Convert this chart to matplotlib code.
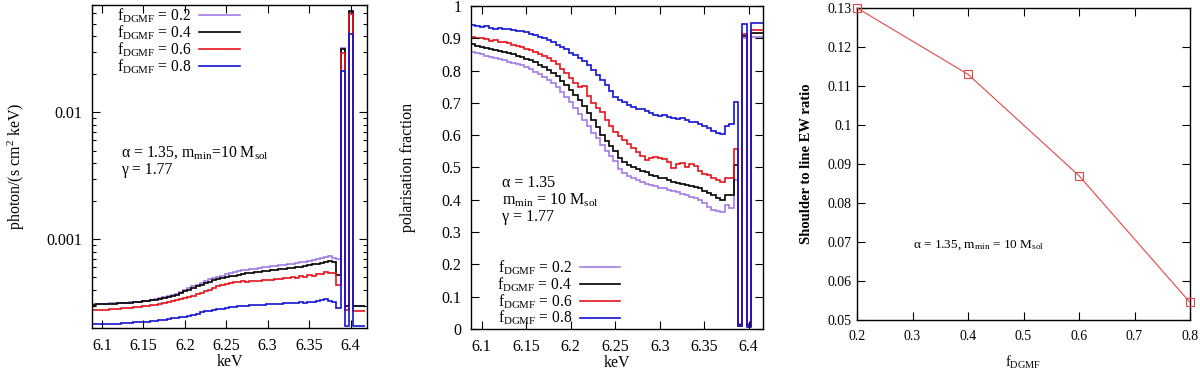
import matplotlib
matplotlib.use("Agg")
import matplotlib.pyplot as plt
import numpy as np
from matplotlib.ticker import FuncFormatter, MultipleLocator, LogLocator

plt.rcParams['font.family'] = ['Liberation Serif', 'DejaVu Serif']
plt.rcParams['mathtext.fontset'] = 'custom'
plt.rcParams['mathtext.rm'] = 'Liberation Serif'
plt.rcParams['mathtext.it'] = 'Liberation Serif:italic'
plt.rcParams['font.size'] = 11.5

# energy bins (keV)
e_start = 6.088
e_width = 0.005
n_bins = 66
edges = e_start + e_width * np.arange(n_bins + 1)

f_labels = ["0.2", "0.4", "0.6", "0.8"]
colors = ["#a47be6", "#000000", "#e8141c", "#1414d2"]

# spectra, photon/(s cm^2 keV), in units of 1e-4
spec_02 = [3.08, 3.09, 3.10, 3.11, 3.12, 3.13, 3.14, 3.15, 3.17, 3.19,
           3.21, 3.23, 3.26, 3.29, 3.33, 3.37, 3.42, 3.48, 3.55, 3.63,
           3.72, 3.83, 3.96, 4.10, 4.25, 4.40, 4.55, 4.70, 4.84, 4.96,
           5.08, 5.18, 5.28, 5.38, 5.48, 5.58, 5.68, 5.75, 5.82, 5.88,
           5.94, 6.00, 6.06, 6.12, 6.18, 6.24, 6.30, 6.36, 6.42, 6.50,
           6.58, 6.68, 6.80, 6.90, 7.02, 7.12, 7.28, 7.35, 7.10, 7.00,
           320.0, 2.96, 618.0, 2.96, 2.96, 2.96]
spec_04 = [3.06, 3.07, 3.08, 3.09, 3.10, 3.11, 3.12, 3.13, 3.15, 3.17,
           3.19, 3.21, 3.24, 3.27, 3.31, 3.35, 3.40, 3.45, 3.52, 3.59,
           3.67, 3.77, 3.88, 4.00, 4.13, 4.26, 4.39, 4.52, 4.63, 4.74,
           4.84, 4.93, 5.01, 5.09, 5.17, 5.25, 5.32, 5.38, 5.44, 5.50,
           5.55, 5.60, 5.66, 5.71, 5.76, 5.81, 5.86, 5.91, 5.97, 6.03,
           6.09, 6.16, 6.24, 6.33, 6.42, 6.52, 6.62, 6.75, 6.60, 5.20,
           318.0, 2.96, 623.0, 2.98, 2.98, 2.98]
spec_06 = [2.76, 2.77, 2.78, 2.79, 2.80, 2.82, 2.83, 2.85, 2.87, 2.89,
           2.91, 2.93, 2.96, 2.99, 3.02, 3.06, 3.10, 3.14, 3.19, 3.25,
           3.30, 3.36, 3.42, 3.52, 3.60, 3.70, 3.80, 3.92, 4.02, 4.12,
           4.25, 4.35, 4.45, 4.52, 4.58, 4.62, 4.66, 4.64, 4.70, 4.72,
           4.68, 4.76, 4.80, 4.78, 4.86, 4.84, 4.92, 4.98, 5.08, 4.95,
           5.10, 5.05, 5.22, 5.15, 5.30, 5.28, 5.50, 5.42, 5.40, 4.40,
           292.0, 2.76, 598.0, 2.72, 2.72, 2.72]
spec_08 = [2.14, 2.14, 2.15, 2.15, 2.16, 2.17, 2.17, 2.18, 2.19, 2.20,
           2.21, 2.22, 2.23, 2.25, 2.27, 2.29, 2.31, 2.33, 2.36, 2.38,
           2.40, 2.42, 2.46, 2.50, 2.55, 2.60, 2.65, 2.70, 2.74, 2.78,
           2.81, 2.84, 2.88, 2.91, 2.94, 2.96, 2.98, 3.00, 3.02, 3.03,
           3.04, 3.05, 3.07, 3.08, 3.10, 3.09, 3.12, 3.14, 3.13, 3.16,
           3.18, 3.17, 3.20, 3.22, 3.24, 3.30, 3.37, 3.28, 3.22, 2.85,
           210.0, 2.06, 417.0, 2.06, 2.06, 2.06]

# polarisation fraction
pol_02 = [0.859, 0.855, 0.850, 0.846, 0.843, 0.840, 0.836, 0.832, 0.828, 0.824,
          0.820, 0.816, 0.810, 0.804, 0.797, 0.788, 0.780, 0.772, 0.762, 0.748,
          0.734, 0.718, 0.702, 0.684, 0.666, 0.648, 0.630, 0.608, 0.590, 0.571,
          0.552, 0.535, 0.520, 0.495, 0.484, 0.474, 0.466, 0.460, 0.454, 0.450,
          0.446, 0.442, 0.438, 0.435, 0.430, 0.426, 0.424, 0.418, 0.414, 0.410,
          0.406, 0.398, 0.390, 0.378, 0.368, 0.365, 0.362, 0.384, 0.374, 0.460,
          0.014, 0.900, 0.014, 0.903, 0.903, 0.903]
pol_04 = [0.881, 0.877, 0.873, 0.870, 0.866, 0.864, 0.860, 0.857, 0.854, 0.850,
          0.846, 0.842, 0.837, 0.832, 0.826, 0.818, 0.810, 0.802, 0.794, 0.782,
          0.768, 0.754, 0.740, 0.724, 0.710, 0.690, 0.670, 0.648, 0.624, 0.600,
          0.583, 0.566, 0.552, 0.530, 0.518, 0.508, 0.500, 0.496, 0.490, 0.485,
          0.478, 0.474, 0.468, 0.466, 0.460, 0.456, 0.452, 0.450, 0.447, 0.443,
          0.440, 0.436, 0.428, 0.422, 0.414, 0.406, 0.398, 0.414, 0.416, 0.508,
          0.012, 0.908, 0.012, 0.915, 0.915, 0.915]
pol_06 = [0.903, 0.901, 0.900, 0.897, 0.893, 0.895, 0.889, 0.890, 0.884, 0.880,
          0.876, 0.872, 0.868, 0.864, 0.859, 0.852, 0.845, 0.838, 0.830, 0.820,
          0.806, 0.792, 0.778, 0.762, 0.750, 0.752, 0.722, 0.700, 0.684, 0.672,
          0.648, 0.628, 0.611, 0.598, 0.585, 0.572, 0.559, 0.548, 0.536, 0.524,
          0.530, 0.534, 0.528, 0.526, 0.516, 0.497, 0.512, 0.514, 0.500, 0.510,
          0.505, 0.490, 0.480, 0.476, 0.467, 0.462, 0.456, 0.468, 0.468, 0.558,
          0.010, 0.912, 0.010, 0.925, 0.925, 0.925]
pol_08 = [0.940, 0.939, 0.936, 0.937, 0.933, 0.930, 0.931, 0.928, 0.929, 0.926,
          0.924, 0.922, 0.918, 0.914, 0.910, 0.905, 0.900, 0.894, 0.887, 0.880,
          0.873, 0.866, 0.856, 0.847, 0.838, 0.829, 0.816, 0.802, 0.786, 0.771,
          0.754, 0.736, 0.718, 0.710, 0.702, 0.692, 0.686, 0.682, 0.680, 0.676,
          0.670, 0.664, 0.660, 0.662, 0.656, 0.654, 0.650, 0.652, 0.646, 0.640,
          0.642, 0.634, 0.628, 0.622, 0.612, 0.608, 0.604, 0.630, 0.636, 0.702,
          0.008, 0.943, 0.006, 0.948, 0.948, 0.948]

# shoulder to line EW ratio
f_dgmf = [0.2, 0.4, 0.6, 0.8]
ew_ratio = [0.130, 0.113, 0.087, 0.0545]

spectra = [spec_02, spec_04, spec_06, spec_08]
pols = [pol_02, pol_04, pol_06, pol_08]

fig = plt.figure(figsize=(12, 3.7), dpi=100)
ax1 = fig.add_axes([0.0767, 0.1135, 0.2292, 0.873])
ax2 = fig.add_axes([0.3925, 0.1108, 0.2433, 0.873])
ax3 = fig.add_axes([0.7142, 0.1351, 0.2775, 0.8432])

def style(ax):
    ax.tick_params(which='both', direction='in', top=True, right=True)
    ax.tick_params(which='major', length=6, width=0.8, pad=7)
    ax.tick_params(which='minor', length=3, width=0.8)
    for s in ax.spines.values():
        s.set_linewidth(1.0)

fmt = FuncFormatter(lambda v, p: '%g' % v)
leg_kw = dict(frameon=False, markerfirst=False, handlelength=2.6,
              handletextpad=0.5, labelspacing=-0.1, borderpad=0.0,
              borderaxespad=0.0, fontsize=11.2)

# panel 1: spectra
for i in range(4):
    ax1.stairs(np.array(spectra[i]) * 1e-4, edges, color=colors[i], lw=1.2,
               baseline=None, label=r"f$_{\mathrm{DGMF}}$ = " + f_labels[i])
ax1.set_yscale('log')
ax1.set_xlim(6.088, 6.42)
ax1.set_ylim(2.0e-4, 0.07)
ax1.xaxis.set_major_locator(MultipleLocator(0.05))
ax1.xaxis.set_major_formatter(fmt)
ax1.yaxis.set_major_locator(LogLocator(base=10, numticks=10))
ax1.yaxis.set_minor_locator(LogLocator(base=10, subs=np.arange(2, 10), numticks=10))
ax1.yaxis.set_major_formatter(fmt)
ax1.yaxis.set_minor_formatter(FuncFormatter(lambda v, p: ''))
style(ax1)
ax1.set_xlabel("keV", labelpad=0)
ax1.set_ylabel(r"photon/(s cm$^2$ keV)", labelpad=14)
ax1.legend(loc='upper left', bbox_to_anchor=(0.09, 0.995), **leg_kw)
ax1.text(0.105, 0.542, r"α = 1.35, m$_{\mathrm{min}}$=10 M$_{\mathrm{sol}}$",
         transform=ax1.transAxes, va='center', fontsize=11.3)
ax1.text(0.105, 0.489, "γ = 1.77", transform=ax1.transAxes, va='center', fontsize=11.3)

# panel 2: polarisation
for i in range(4):
    ax2.stairs(pols[i], edges, color=colors[i], lw=1.2, baseline=None,
               label=r"f$_{\mathrm{DGMF}}$ = " + f_labels[i])
ax2.set_xlim(6.088, 6.416)
ax2.set_ylim(0, 1)
ax2.xaxis.set_major_locator(MultipleLocator(0.05))
ax2.xaxis.set_major_formatter(fmt)
ax2.yaxis.set_major_locator(MultipleLocator(0.1))
ax2.yaxis.set_major_formatter(fmt)
style(ax2)
ax2.set_xlabel("keV", labelpad=0)
ax2.set_ylabel("polarisation fraction", labelpad=18)
ax2.legend(loc='lower left', bbox_to_anchor=(0.09, 0.005), **leg_kw)
ax2.text(0.105, 0.452, "α = 1.35", transform=ax2.transAxes, va='center', fontsize=11.5)
ax2.text(0.105, 0.399, r"m$_{\mathrm{min}}$ = 10 M$_{\mathrm{sol}}$",
         transform=ax2.transAxes, va='center', fontsize=11.5)
ax2.text(0.105, 0.348, "γ = 1.77", transform=ax2.transAxes, va='center', fontsize=11.5)

# panel 3: EW ratio
ax3.plot(f_dgmf, ew_ratio, color='#e04848', lw=0.8, marker='s', ms=6,
         mfc='none', mec='#e04848', mew=0.8, clip_on=False, zorder=3)
ax3.set_xlim(0.2, 0.8)
ax3.set_ylim(0.05, 0.13)
ax3.xaxis.set_major_locator(MultipleLocator(0.1))
ax3.yaxis.set_major_locator(MultipleLocator(0.01))
ax3.xaxis.set_major_formatter(fmt)
ax3.yaxis.set_major_formatter(fmt)
style(ax3)
ax3.tick_params(labelsize=10)
ax3.tick_params(axis='y', pad=4)
ax3.tick_params(axis='x', pad=7)
ax3.set_xlabel(r"f$_{\mathrm{DGMF}}$", fontsize=10.5, labelpad=8)
ax3.set_ylabel("Shoulder to line EW ratio", fontsize=10.5, fontweight='bold', labelpad=10)
ax3.text(0.168, 0.240, r"α = 1.35, m$_{\mathrm{min}}$ = 10 M$_{\mathrm{sol}}$",
         transform=ax3.transAxes, va='center', fontsize=9.5)

fig.savefig("out.png", dpi=100)
